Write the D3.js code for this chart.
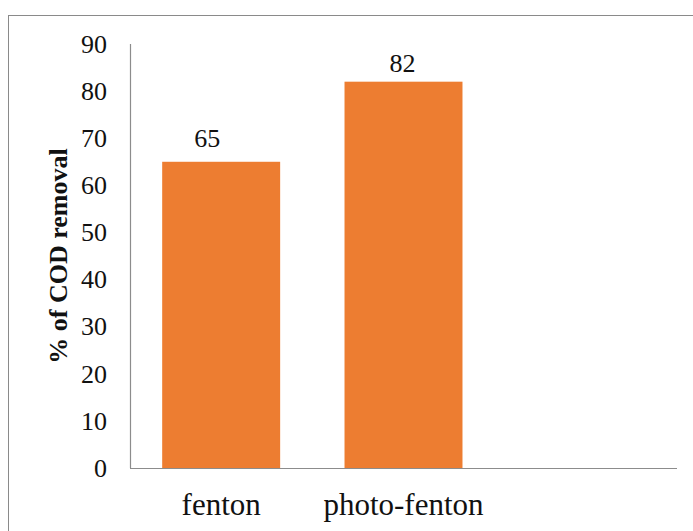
<!DOCTYPE html>
<html>
<head>
<meta charset="utf-8">
<script src="https://cdn.jsdelivr.net/npm/d3@7"></script>
<style>
  html, body { margin: 0; padding: 0; background: #fff; }
  svg { display: block; }
</style>
</head>
<body>
<svg id="chart" width="693" height="531"></svg>
<script>
// Chart data
const categories = ["fenton", "photo-fenton", ""];
const values = [65, 82, null];
const yTicks = [0, 10, 20, 30, 40, 50, 60, 70, 80, 90];
const yTitle = "% of COD removal";

const W = 693, H = 531;
const plot = { left: 130, right: 677, top: 44, bottom: 468 };
const barColor = "#ED7D31";
const axisColor = "#8c8c8c";
const serif = "'Liberation Serif', 'Times New Roman', Times, serif";

const svg = d3.select("#chart");

// Outer frame
svg.append("rect")
  .attr("x", 8.5).attr("y", 15.5)
  .attr("width", W + 20).attr("height", H + 20)
  .attr("fill", "#fff")
  .attr("stroke", "#8a8a8a").attr("stroke-width", 1);

const x = d3.scaleBand()
  .domain(categories)
  .range([plot.left, plot.right])
  .paddingInner(0.353)
  .paddingOuter(0.1765);

const y = d3.scaleLinear()
  .domain([0, 90])
  .range([plot.bottom, plot.top]);

// Bars
const data = categories.map((c, i) => ({ c, v: values[i], i })).filter(d => d.v != null);

svg.append("g").selectAll("rect")
  .data(data)
  .join("rect")
  .attr("x", d => x(d.c))
  .attr("y", d => y(d.v))
  .attr("width", x.bandwidth())
  .attr("height", d => y(0) - y(d.v))
  .attr("fill", barColor);

// Value labels (small per-label nudges as laid out on the chart)
const labelNudge = [{ dx: -14, dy: -15 }, { dx: -1, dy: -10 }];
svg.append("g").selectAll("text")
  .data(data)
  .join("text")
  .attr("x", d => x(d.c) + x.bandwidth() / 2 + labelNudge[d.i].dx)
  .attr("y", d => y(d.v) + labelNudge[d.i].dy)
  .attr("text-anchor", "middle")
  .style("font-family", serif)
  .style("font-size", "26px")
  .attr("fill", "#111")
  .text(d => d.v);

// Y axis
const yAxis = d3.axisLeft(y)
  .tickValues(yTicks)
  .tickSize(0)
  .tickPadding(23);

const gy = svg.append("g")
  .attr("transform", `translate(${plot.left},0)`)
  .call(yAxis);
gy.select(".domain").attr("stroke", axisColor).attr("stroke-width", 1.2)
  .attr("d", `M0.5,${plot.top}V${plot.bottom}`);
gy.selectAll("text")
  .style("font-family", serif)
  .style("font-size", "26px")
  .attr("fill", "#111");

// X axis
const xAxis = d3.axisBottom(x).tickSize(0).tickPadding(25);
const gx = svg.append("g")
  .attr("transform", `translate(0,${plot.bottom})`)
  .call(xAxis);
gx.select(".domain").attr("stroke", axisColor).attr("stroke-width", 1.2)
  .attr("d", `M${plot.left},0.5H${plot.right}`);
gx.selectAll("text")
  .style("font-family", serif)
  .style("font-size", "31px")
  .attr("fill", "#111");

// Y axis title
svg.append("text")
  .attr("transform", `translate(67,${(plot.top + plot.bottom) / 2}) rotate(-90)`)
  .attr("text-anchor", "middle")
  .style("font-family", serif)
  .style("font-weight", "bold")
  .style("font-size", "26px")
  .attr("fill", "#111")
  .text(yTitle);
</script>
</body>
</html>
